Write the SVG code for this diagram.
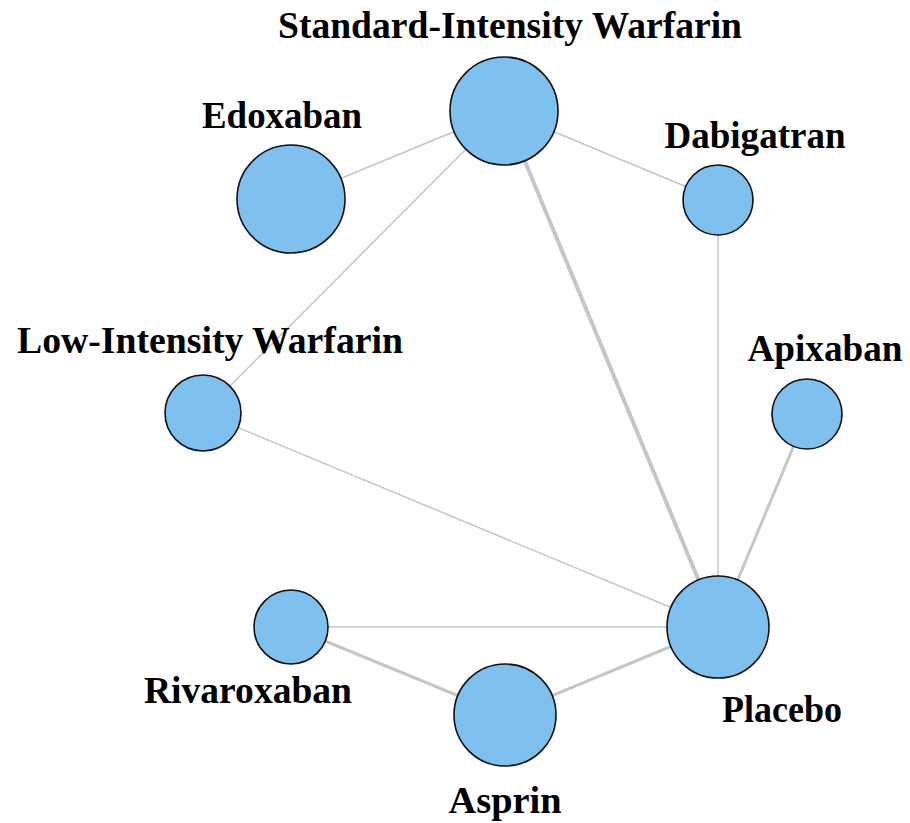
<svg xmlns="http://www.w3.org/2000/svg" width="910" height="823" viewBox="0 0 910 823">
<style>
.node{fill:#7fc1ee;stroke:#111;stroke-width:1.6}
.lbl{font-family:"Liberation Serif","Times New Roman",serif;font-weight:bold;font-size:37px;fill:#000;text-anchor:middle}
.e{stroke:#c6c6c6;fill:none}
.t{stroke-width:1.5}
.m{stroke-width:3}
.k{stroke-width:4}
</style>
<rect width="910" height="823" fill="#fff"/>
<g id="edges">
<line class="e t" x1="504" y1="111" x2="291" y2="199"/>
<line class="e t" x1="504" y1="111" x2="718" y2="200"/>
<line class="e t" x1="504" y1="111" x2="203" y2="413"/>
<line class="e k" x1="504" y1="111" x2="718" y2="627"/>
<line class="e t" x1="718" y1="200" x2="718" y2="627"/>
<line class="e m" x1="807" y1="414" x2="718" y2="627"/>
<line class="e t" x1="203" y1="413" x2="718" y2="627"/>
<line class="e t" x1="291" y1="627" x2="718" y2="627"/>
<line class="e m" x1="291" y1="627" x2="505" y2="715"/>
<line class="e m" x1="505" y1="715" x2="718" y2="627"/>
</g>
<g id="n-siw"><circle class="node" cx="504" cy="111" r="54"/><text class="lbl" x="510" y="38" textLength="464" lengthAdjust="spacingAndGlyphs">Standard-Intensity Warfarin</text></g>
<g id="n-edoxaban"><circle class="node" cx="291" cy="199" r="54"/><text class="lbl" x="282" y="128" textLength="160" lengthAdjust="spacingAndGlyphs">Edoxaban</text></g>
<g id="n-dabigatran"><circle class="node" cx="718" cy="200" r="35"/><text class="lbl" x="755" y="148" textLength="181" lengthAdjust="spacingAndGlyphs">Dabigatran</text></g>
<g id="n-liw"><circle class="node" cx="203" cy="413" r="38"/><text class="lbl" x="210" y="353" textLength="386" lengthAdjust="spacingAndGlyphs">Low-Intensity Warfarin</text></g>
<g id="n-apixaban"><circle class="node" cx="807" cy="414" r="35"/><text class="lbl" x="825" y="361" textLength="155" lengthAdjust="spacingAndGlyphs">Apixaban</text></g>
<g id="n-placebo"><circle class="node" cx="718" cy="627" r="51"/><text class="lbl" x="782" y="722" textLength="120" lengthAdjust="spacingAndGlyphs">Placebo</text></g>
<g id="n-rivaroxaban"><circle class="node" cx="291" cy="627" r="37"/><text class="lbl" x="248" y="703" textLength="208" lengthAdjust="spacingAndGlyphs">Rivaroxaban</text></g>
<g id="n-asprin"><circle class="node" cx="505" cy="715" r="51"/><text class="lbl" x="505" y="813" textLength="113" lengthAdjust="spacingAndGlyphs">Asprin</text></g>
</svg>
